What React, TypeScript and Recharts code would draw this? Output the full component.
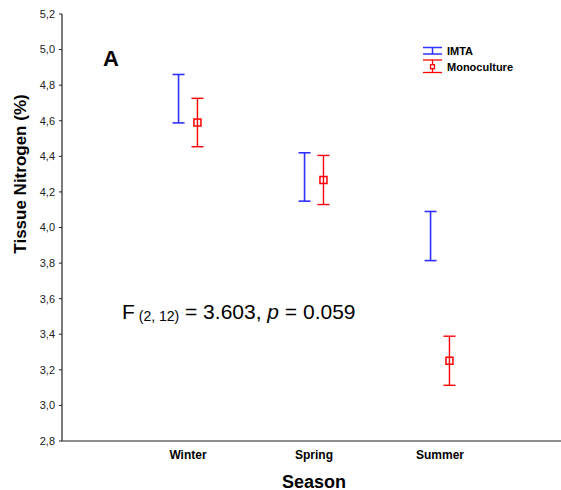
import React from 'react';
import { ScatterChart, Scatter, XAxis, YAxis, ErrorBar } from 'recharts';

const seasons = ['Winter', 'Spring', 'Summer'];
const imtaMean = [4.724, 4.284, 3.952];
const imtaErr = [0.136, 0.136, 0.138];
const monoMean = [4.59, 4.267, 3.251];
const monoErr = [0.136, 0.138, 0.138];
const yTicks = [2.8, 3.0, 3.2, 3.4, 3.6, 3.8, 4.0, 4.2, 4.4, 4.6, 4.8, 5.0, 5.2];
const xTicks = [1, 2, 3];

const OFFSET = 0.075;
const FONT = '"Liberation Sans", Arial, sans-serif';
const BLUE = '#3030ff';
const RED = '#ff0000';

const imtaData = seasons.map((s, i) => ({ season: s, x: i + 1 - OFFSET, y: imtaMean[i], err: imtaErr[i] }));
const monoData = seasons.map((s, i) => ({ season: s, x: i + 1 + OFFSET, y: monoMean[i], err: monoErr[i] }));

const NoMarker = () => <g />;
const SquareMarker = (props: any) => {
  const { cx, cy } = props;
  return <rect x={cx - 3.5} y={cy - 3.5} width={7} height={7} fill="none" stroke={RED} strokeWidth={1.5} />;
};

export default function App() {
  return (
    <div style={{ position: 'absolute', left: 0, top: 0, width: 561, height: 490, overflow: 'hidden', background: '#fff' }}>
      <ScatterChart width={566} height={490} margin={{ top: 14, right: 0, bottom: 0, left: 0 }}>
        <XAxis
          dataKey="x"
          type="number"
          domain={[0, 4]}
          ticks={xTicks}
          tickFormatter={(v: number) => seasons[v - 1] ?? ''}
          height={49}
          tickLine={false}
          tickSize={0}
          tickMargin={9}
          axisLine={{ stroke: '#222', strokeWidth: 1.2 }}
          tick={{ fontFamily: FONT, fontSize: 12, fontWeight: 'bold', fill: '#000' }}
          interval={0}
        />
        <YAxis
          dataKey="y"
          type="number"
          domain={[2.8, 5.2]}
          ticks={yTicks}
          width={62}
          tickSize={3}
          tickMargin={4}
          tickFormatter={(v: number) => v.toFixed(1).replace('.', ',')}
          axisLine={{ stroke: '#222', strokeWidth: 1.2 }}
          tickLine={{ stroke: '#222' }}
          tick={{ fontFamily: FONT, fontSize: 11, fill: '#222' }}
          interval={0}
        />
        <Scatter data={imtaData} isAnimationActive={false} shape={<NoMarker />}>
          <ErrorBar dataKey="err" direction="y" width={6} stroke={BLUE} strokeWidth={1.6} isAnimationActive={false} />
        </Scatter>
        <Scatter data={monoData} isAnimationActive={false} shape={<SquareMarker />}>
          <ErrorBar dataKey="err" direction="y" width={6} stroke={RED} strokeWidth={1.4} isAnimationActive={false} />
        </Scatter>
      </ScatterChart>
      <svg width={561} height={490} style={{ position: 'absolute', left: 0, top: 0, pointerEvents: 'none' }}>
        <text x={103} y={66} fontFamily={FONT} fontSize={22} fontWeight="bold" fill="#000">A</text>
        <g stroke={BLUE} strokeWidth={1.5}>
          <line x1={423} y1={47.5} x2={442} y2={47.5} />
          <line x1={432.5} y1={47.5} x2={432.5} y2={54} />
          <line x1={423} y1={54} x2={442} y2={54} />
        </g>
        <g stroke={RED} strokeWidth={1.3}>
          <line x1={423} y1={60} x2={442} y2={60} />
          <line x1={432.5} y1={60} x2={432.5} y2={72.5} />
          <line x1={423} y1={72.5} x2={442} y2={72.5} />
          <rect x={430.5} y={64.7} width={4} height={4} fill="#fff" />
        </g>
        <text x={447} y={54.5} fontFamily={FONT} fontSize={11} fontWeight="bold" fill="#000">IMTA</text>
        <text x={447} y={71} fontFamily={FONT} fontSize={11} fontWeight="bold" fill="#000">Monoculture</text>
        <text x={122} y={319} fontFamily={FONT} fontSize={21} fill="#000">
          F<tspan fontSize={14} dy={2}> (2, 12)</tspan>
          <tspan dy={-2}> = 3.603, </tspan>
          <tspan fontStyle="italic">p</tspan>
          <tspan> = 0.059</tspan>
        </text>
        <text x={314} y={487.5} textAnchor="middle" fontFamily={FONT} fontSize={18} fontWeight="bold" fill="#000">Season</text>
        <text transform="rotate(-90)" x={-174} y={25.5} textAnchor="middle" fontFamily={FONT} fontSize={17} fontWeight="bold" fill="#000">Tissue Nitrogen (%)</text>
      </svg>
    </div>
  );
}
